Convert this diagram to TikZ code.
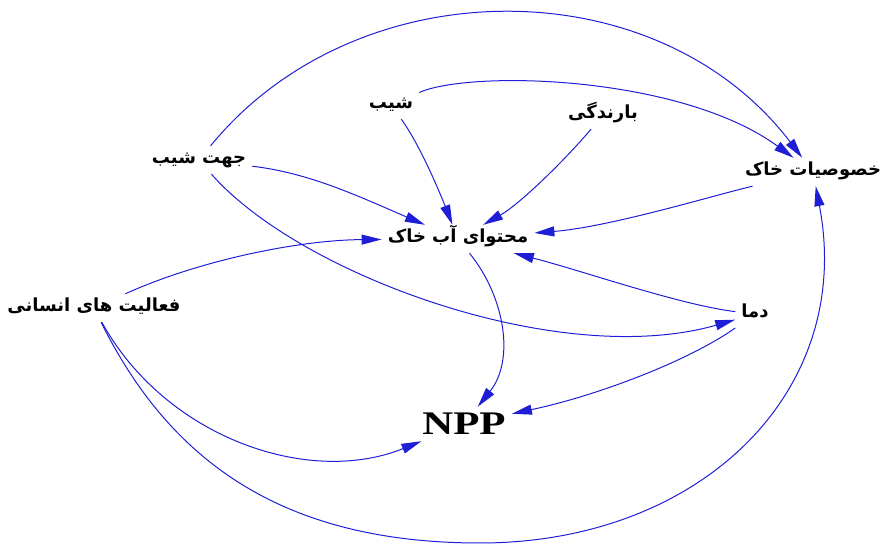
\documentclass[tikz,border=0pt]{standalone}
\usepackage{fontspec}
\usepackage{graphicx}
\usepackage{tikz}
\usetikzlibrary{positioning,arrows.meta}
\setmainfont{Liberation Serif}
\newfontfamily\farsifont[Script=Arabic]{DejaVu Sans}
\TeXXeTstate=1
\definecolor{linkblue}{RGB}{30,30,215}

\begin{document}
\begin{tikzpicture}[x=1pt,y=1pt,
        factor/.style={inner xsep=6pt, inner ysep=6pt, text height=12pt, text depth=4pt,
            font=\farsifont\bfseries\fontsize{18}{20}\selectfont},
        link/.style={draw=linkblue, line width=1pt, -{Triangle[length=20pt,width=10pt]}}]
        \useasboundingbox (0,0) rectangle (885,545);

        % Define the nodes
        \node[factor] (shib) at (391,440) {\beginR شیب\endR};
        \node[factor] (baran) at (603,430) {\beginR بارندگی\endR};
        \node[factor] (jahat) at (199,385) {\beginR جهت شیب\endR};
        \node[factor] (khos) at (813,373) {\beginR خصوصیات خاک\endR};
        \node[factor] (mohtava) at (458,306) {\beginR محتوای آب خاک\endR};
        \node[factor] (faal) at (94,237) {\beginR فعالیت های انسانی\endR};
        \node[factor] (dama) at (755,231) {\beginR دما\endR};
        \node[inner xsep=6pt, inner ysep=6pt, text height=22pt, text depth=0pt,
            font=\bfseries\fontsize{33}{36}\selectfont] (npp) at (464,121) {\scalebox{1.3}[1]{NPP}};
        \coordinate (bottom) at (480,2);

        % Draw the links
        \draw[link] (jahat) .. controls (357,578) and (657,578) .. (khos);
        \draw[link] (shib) .. controls (470,475) and (680,470) .. (khos);
        \draw[link] (shib) .. controls (420,400) and (440,352) .. (mohtava);
        \draw[link] (baran) .. controls (565,385) and (520,341) .. (mohtava);
        \draw[link] (jahat) .. controls (310,372) and (360,348) .. (mohtava);
        \draw[link] (jahat) .. controls (300,270) and (560,175) .. (dama);
        \draw[link] (khos) .. controls (715,350) and (610,318) .. (mohtava);
        \draw[link] (faal) .. controls (200,285) and (300,305) .. (mohtava);
        \draw[link] (dama) .. controls (680,240) and (580,275) .. (mohtava);
        \draw[link] (dama) .. controls (690,185) and (600,150) .. (npp);
        \draw[link] (mohtava) .. controls (505,248) and (515,185) .. (npp);
        \draw[link] (faal) .. controls (165,108) and (308,58) .. (npp);
        \draw[link] (faal) .. controls (169,86) and (280,2) .. (bottom)
            .. controls (700,2) and (855,153) .. (khos);
    \end{tikzpicture}
\end{document}
